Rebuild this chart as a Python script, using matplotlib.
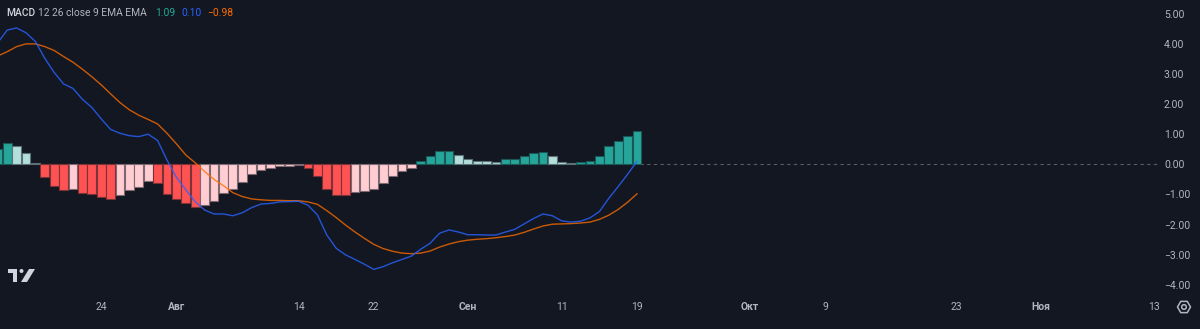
import matplotlib
matplotlib.use("Agg")
import matplotlib.pyplot as plt
import matplotlib.dates as mdates
from matplotlib.transforms import IdentityTransform
from matplotlib.patches import Polygon, Circle, RegularPolygon
from matplotlib.colors import to_rgb
import numpy as np
import pandas as pd

# ---- data: daily MACD(12, 26, close, 9) ----
dates = pd.date_range("2023-07-13", "2023-09-19", freq="D")

hist = [
    0.50, 0.70, 0.61, 0.37, 0.03, -0.42, -0.73, -0.87, -0.83, -0.96,
    -0.99, -1.10, -1.15, -1.03, -0.87, -0.74, -0.54, -0.61, -0.99,
    -1.16, -1.30, -1.42, -1.35, -1.22, -0.96, -0.81, -0.59, -0.33, -0.18,
    -0.13, -0.07, -0.04, -0.02, -0.13, -0.38, -0.83, -1.01, -1.02, -0.93,
    -0.90, -0.83, -0.61, -0.38, -0.23, -0.11, 0.12, 0.27, 0.44, 0.45, 0.31,
    0.18, 0.12, 0.10, 0.09, 0.16, 0.18, 0.29, 0.38, 0.40, 0.29,
    0.09, 0.04, 0.07, 0.12, 0.29, 0.61, 0.79, 0.94, 1.09,
]

macd = [
    4.04, 4.46, 4.53, 4.37, 4.08, 3.52, 3.05, 2.67, 2.52, 2.16,
    1.89, 1.51, 1.16, 1.03, 0.95, 0.92, 1.00, 0.79, 0.14,
    -0.43, -0.85, -1.24, -1.52, -1.65, -1.65, -1.71, -1.61, -1.44, -1.32,
    -1.30, -1.25, -1.24, -1.23, -1.36, -1.68, -2.35, -2.79, -3.01, -3.16,
    -3.32, -3.49, -3.40, -3.27, -3.16, -3.05, -2.82, -2.62, -2.29, -2.18, -2.25,
    -2.34, -2.34, -2.35, -2.35, -2.25, -2.16, -1.98, -1.80, -1.65, -1.71,
    -1.88, -1.92, -1.89, -1.78, -1.57, -1.13, -0.74, -0.33, 0.10,
]

signal = [
    3.60, 3.74, 3.91, 4.00, 4.00, 3.91, 3.78, 3.58, 3.39, 3.16,
    2.91, 2.64, 2.34, 2.05, 1.81, 1.63, 1.49, 1.34, 1.03,
    0.68, 0.31, 0.05, -0.24, -0.50, -0.71, -0.94, -1.07, -1.15, -1.18,
    -1.20, -1.20, -1.21, -1.21, -1.25, -1.33, -1.54, -1.77, -2.02, -2.25,
    -2.46, -2.66, -2.80, -2.89, -2.95, -2.97, -2.95, -2.88, -2.75, -2.65, -2.57,
    -2.52, -2.49, -2.47, -2.44, -2.40, -2.35, -2.26, -2.15, -2.05, -1.99,
    -1.98, -1.97, -1.95, -1.92, -1.83, -1.69, -1.50, -1.26, -0.98,
]

tick_dates = ["2023-07-24", "2023-08-01", "2023-08-14", "2023-08-22",
              "2023-09-01", "2023-09-11", "2023-09-19", "2023-10-01",
              "2023-10-09", "2023-10-23", "2023-11-01", "2023-11-13"]
tick_labels = ["24", "Авг", "14", "22", "Сен", "11", "19", "Окт",
               "9", "23", "Ноя", "13"]
month_labels = {"Авг", "Сен", "Окт", "Ноя"}
y_ticks = [5, 4, 3, 2, 1, 0, -1, -2, -3, -4]

# ---- style ----
BG = "#131722"
TEXT = "#B2B5BE"
MACD_COLOR = "#2962FF"
SIGNAL_COLOR = "#FF6D00"
UP_GROW, UP_FALL = "#26A69A", "#B2DFDB"
DN_GROW, DN_FALL = "#FFCDD2", "#FF5252"

plt.rcParams["font.family"] = ["Roboto", "DejaVu Sans"]

W, H = 1200, 329
PLOT_W, PLOT_H = 1158, 295
PX_PER_DAY = 9.4
PX_PER_UNIT = 30.1
ZERO_Y = 164.3
LAST_X = 637

fig = plt.figure(figsize=(W / 100, H / 100), dpi=100, facecolor=BG)
ax = fig.add_axes([0, (H - PLOT_H) / H, PLOT_W / W, PLOT_H / H])
ax.set_facecolor(BG)

x = mdates.date2num(dates)


def blend(c, bg, a):
    c, bg = np.array(to_rgb(c)), np.array(to_rgb(bg))
    return tuple(c * a + bg * (1 - a))


colors = []
for i, h in enumerate(hist):
    prev = hist[i - 1] if i > 0 else -np.inf
    if h >= 0:
        colors.append(UP_GROW if h > prev else UP_FALL)
    else:
        colors.append(DN_FALL if h < prev else DN_GROW)
edges = [blend(c, BG, 0.45) for c in colors]

ax.axhline(0, color="#787B86", lw=0.8, ls=(0, (3, 3)), alpha=0.7, zorder=1)
ax.bar(x, hist, width=0.92, color=colors, edgecolor=edges, linewidth=0.8,
       zorder=2)
ax.plot(x, macd, color=MACD_COLOR, lw=1.0, alpha=0.82, zorder=4,
        solid_joinstyle="round")
ax.plot(x, signal, color=SIGNAL_COLOR, lw=1.0, alpha=0.78, zorder=3,
        solid_joinstyle="round")

x_last = x[-1]
ax.set_xlim(x_last - LAST_X / PX_PER_DAY, x_last + (PLOT_W - LAST_X) / PX_PER_DAY)
ax.set_ylim(-(PLOT_H - ZERO_Y) / PX_PER_UNIT, ZERO_Y / PX_PER_UNIT)

for s in ax.spines.values():
    s.set_visible(False)

ax.set_xticks(mdates.date2num(pd.to_datetime(tick_dates)))
ax.set_xticklabels(tick_labels)
ax.tick_params(axis="x", length=0, pad=5, labelsize=7.5, colors=TEXT)
for lab in ax.get_xticklabels():
    if lab.get_text() in month_labels:
        lab.set_fontweight("bold")

ax.yaxis.tick_right()
ax.set_yticks(y_ticks)
ax.set_yticklabels([f"{v:.2f}".replace("-", "\u2212") for v in y_ticks])
ax.tick_params(axis="y", length=0, pad=4.3, labelsize=7.5, colors=TEXT)


def px_text(px, py, s, **kw):
    fig.text(px / W, 1 - py / H, s, va="center", ha="left", **kw)


# indicator header
HEAD = 7.4
px_text(6, 13, "MACD", color="#D1D4DC", fontsize=HEAD, fontweight="medium")
px_text(38, 13, "12 26 close 9 EMA EMA", color=TEXT, fontsize=HEAD)
px_text(155, 13, f"{hist[-1]:.2f}", color="#22AB94", fontsize=HEAD)
px_text(181, 13, f"{macd[-1]:.2f}", color=MACD_COLOR, fontsize=HEAD)
px_text(207, 13, f"{signal[-1]:.2f}".replace("-", "\u2212"),
        color=SIGNAL_COLOR, fontsize=HEAD)

# settings icon in the bottom-right corner
ident = IdentityTransform()
fig.add_artist(RegularPolygon((1184, H - 307), numVertices=6, radius=6.5,
                              orientation=np.pi / 6, transform=ident,
                              fill=False, edgecolor=TEXT, lw=1.1))
fig.add_artist(Circle((1184, H - 307), 2.3, transform=ident, fill=False,
                      edgecolor=TEXT, lw=1.1))

# watermark logo in the bottom-left corner
LOGO = "#D1D4DC"
t_shape = [(8, 269), (17, 269), (17, 282), (13, 282), (13, 273), (8, 273)]
v_shape = [(29, 269), (35, 269), (27, 282), (21, 282)]
for shape in (t_shape, v_shape):
    fig.add_artist(Polygon([(px, H - py) for px, py in shape], closed=True,
                           transform=ident, facecolor=LOGO, edgecolor="none"))
fig.add_artist(Circle((21.5, H - 271), 2.0, transform=ident,
                      facecolor=LOGO, edgecolor="none"))

fig.savefig("out.png", dpi=100, facecolor=BG)
